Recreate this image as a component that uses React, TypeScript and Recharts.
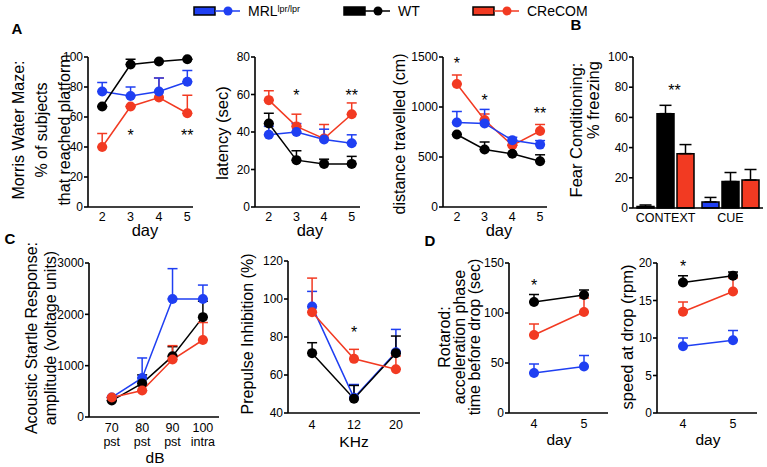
import { ComposedChart, Line, Bar, XAxis, YAxis, ErrorBar, ReferenceDot } from 'recharts'

const BLUE = '#1f3ff2'
const RED = '#f23a22'
const BLACK = '#000000'
const FONT = '"Liberation Sans", Arial, Helvetica, sans-serif'

// A: Morris water maze (days 2-5)
const mazeDays = [2, 3, 4, 5]
const reachedMrl = [77, 74, 77, 83.5]
const reachedMrlErr = [6, 6, 9, 7.5]
const reachedWt = [67, 95, 97, 98.5]
const reachedWtErr = [0, 3.5, 0, 0]
const reachedCr = [40, 67, 73, 62.5]
const reachedCrErr = [9, 0, 13, 12]

const latencyMrl = [38.5, 40, 36, 34]
const latencyMrlErr = [4.5, 4.5, 5.5, 4.5]
const latencyWt = [44.5, 25, 23, 23]
const latencyWtErr = [5.5, 5, 2.5, 4]
const latencyCr = [57, 43, 36.5, 49.5]
const latencyCrErr = [5, 6.5, 7.5, 6]

const distanceMrl = [845, 836, 667, 624]
const distanceMrlErr = [110, 140, 30, 40]
const distanceWt = [725, 575, 532, 457]
const distanceWtErr = [0, 75, 0, 65]
const distanceCr = [1230, 870, 617, 760]
const distanceCrErr = [90, 60, 0, 65]

// B: fear conditioning
const fearCats = ['CONTEXT', 'CUE']
const freezeMrl = [1, 4]
const freezeMrlErr = [1, 3]
const freezeWt = [62.5, 17.5]
const freezeWtErr = [5.5, 6]
const freezeCr = [36, 18.5]
const freezeCrErr = [6, 7]

// C: acoustic startle (dB) and prepulse inhibition (KHz)
const startleDb = [70, 80, 90, 100]
const startleTicks: Record<string, string[]> = { 70: ['70', 'pst'], 80: ['80', 'pst'], 90: ['90', 'pst'], 100: ['100', 'intra'] }
const startleMrl = [380, 760, 2300, 2300]
const startleMrlErr = [0, 390, 590, 270]
const startleWt = [320, 655, 1185, 1945]
const startleWtErr = [0, 165, 185, 310]
const startleCr = [380, 515, 1120, 1500]
const startleCrErr = [0, 0, 270, 340]

const ppiKhz = [4, 12, 20]
const ppiMrl = [96, 48, 72]
const ppiMrlErr = [8, 7, 12]
const ppiWt = [71.5, 47.5, 71.5]
const ppiWtErr = [5.5, 7, 9]
const ppiCr = [93, 68.5, 63]
const ppiCrErr = [18, 5, 7]

// D: rotarod (days 4-5)
const rotaDays = [4, 5]
const timeMrl = [40, 46.5]
const timeMrlErr = [9, 11]
const timeWt = [111, 118]
const timeWtErr = [7.5, 5]
const timeCr = [78, 101]
const timeCrErr = [11, 14]
const speedMrl = [8.9, 9.7]
const speedMrlErr = [1.1, 1.3]
const speedWt = [17.4, 18.3]
const speedWtErr = [0.9, 0.5]
const speedCr = [13.5, 16.2]
const speedCrErr = [1.3, 1.8]

const YW = 40
const MT = 8
const MR = 8
const XH = 40
const axisStyle = { stroke: '#000', strokeWidth: 1.6 }
const yTick = { fill: '#000', fontSize: 12, fontFamily: FONT }

type Series = { color: string; values: number[]; errs: number[] }
type Star = { x: number | string; y: number; text: string; dx?: number }

function starShape(text: string, dx = 0) {
  return (p: any) => (
    <text x={p.cx + dx} y={p.cy + 8.5} textAnchor="middle" fontSize={16} fontFamily={FONT} fill="#000">
      {text}
    </text>
  )
}

function makeXTick(dy: number, labels?: Record<string, string[]>) {
  return (p: any) => {
    const lines = labels ? labels[p.payload.value] : [String(p.payload.value)]
    return (
      <text x={p.x} y={p.y + dy} textAnchor="middle" fontSize={12.5} fontFamily={FONT} fill="#000">
        {lines.map((l, i) => (
          <tspan key={i} x={p.x} dy={i === 0 ? 0 : 14}>{l}</tspan>
        ))}
      </text>
    )
  }
}

interface LinePanelProps {
  left: number
  top: number
  width: number
  height: number
  xs: number[]
  xDomain: [number, number]
  yDomain: [number, number]
  yTicks: number[]
  series: Series[]
  stars?: Star[]
  tickDy: number
  tickLabels?: Record<string, string[]>
}

function LinePanel({ left, top, width, height, xs, xDomain, yDomain, yTicks, series, stars = [], tickDy, tickLabels }: LinePanelProps) {
  const rows = xs.map((x, i) => {
    const r: Record<string, any> = { x }
    series.forEach((s, j) => {
      r['v' + j] = s.values[i]
      r['e' + j] = [0, s.errs[i]]
    })
    return r
  })
  return (
    <div style={{ position: 'absolute', left: left - YW, top: top - MT }}>
      <ComposedChart width={YW + width + MR} height={MT + height + XH} data={rows}
        margin={{ top: MT, right: MR, left: 0, bottom: 0 }}>
        <XAxis type="number" dataKey="x" domain={xDomain} ticks={xs} interval={0} height={XH}
          tickLine={false} tickSize={0} axisLine={axisStyle} tick={makeXTick(tickDy, tickLabels)} />
        <YAxis type="number" domain={yDomain} ticks={yTicks} interval={0} width={YW}
          tickSize={4} tickMargin={1} tickLine={axisStyle} axisLine={axisStyle} tick={yTick} />
        {series.map((s, j) => (
          <Line key={j} dataKey={'v' + j} stroke={s.color} strokeWidth={1.5} isAnimationActive={false}
            dot={{ r: 5, fill: s.color, stroke: s.color, strokeWidth: 0 }}>
            <ErrorBar dataKey={'e' + j} direction="y" width={5} stroke={s.color} strokeWidth={1.5} />
          </Line>
        ))}
        {stars.map((st, i) => (
          <ReferenceDot key={i} x={st.x} y={st.y} r={2} fill="none" stroke="none" shape={starShape(st.text, st.dx)} />
        ))}
      </ComposedChart>
    </div>
  )
}

function FearPanel() {
  const left = 633
  const top = 57
  const width = 130
  const height = 151
  const rows = fearCats.map((c, i) => ({
    cat: c,
    mrl: freezeMrl[i], mrlErr: [0, freezeMrlErr[i]],
    wt: freezeWt[i], wtErr: [0, freezeWtErr[i]],
    cr: freezeCr[i], crErr: [0, freezeCrErr[i]],
  }))
  return (
    <div style={{ position: 'absolute', left: left - YW, top: top - MT }}>
      <ComposedChart width={YW + width + MR} height={MT + height + XH} data={rows}
        margin={{ top: MT, right: MR, left: 0, bottom: 0 }} barCategoryGap={4} barGap={3}>
        <XAxis dataKey="cat" height={XH} tickLine={false} tickSize={0} axisLine={axisStyle} tick={makeXTick(12)} />
        <YAxis type="number" domain={[0, 100]} ticks={[0, 20, 40, 60, 80, 100]} interval={0} width={YW}
          tickSize={4} tickMargin={1} tickLine={axisStyle} axisLine={axisStyle} tick={yTick} />
        <Bar dataKey="mrl" fill={BLUE} stroke="#000" strokeWidth={1.5} isAnimationActive={false}>
          <ErrorBar dataKey="mrlErr" direction="y" width={6} stroke="#000" strokeWidth={1.5} />
        </Bar>
        <Bar dataKey="wt" fill={BLACK} stroke="#000" strokeWidth={1.5} isAnimationActive={false}>
          <ErrorBar dataKey="wtErr" direction="y" width={6} stroke="#000" strokeWidth={1.5} />
        </Bar>
        <Bar dataKey="cr" fill={RED} stroke="#000" strokeWidth={1.5} isAnimationActive={false}>
          <ErrorBar dataKey="crErr" direction="y" width={6} stroke="#000" strokeWidth={1.5} />
        </Bar>
        <ReferenceDot x="CONTEXT" y={80} r={2} fill="none" stroke="none" shape={starShape('**', 9)} />
      </ComposedChart>
    </div>
  )
}

function Txt({ x, y, size = 16.5, rotate = false, bold = false, lh, children }: any) {
  return (
    <div style={{
      position: 'absolute', left: x, top: y,
      transform: `translate(-50%, -50%)${rotate ? ' rotate(-90deg)' : ''}`,
      fontSize: size, fontWeight: bold ? 'bold' : 'normal', lineHeight: lh ? lh + 'px' : 1,
      whiteSpace: 'nowrap', textAlign: 'center', fontFamily: FONT, color: '#000',
    }}>
      {children}
    </div>
  )
}

function LegendIcon({ x, color }: { x: number; color: string }) {
  return (
    <svg style={{ position: 'absolute', left: x, top: 4 }} width={48} height={14}>
      <rect x={1} y={3} width={21} height={8} fill={color} stroke="#000" strokeWidth={1.5} />
      <line x1={22} y1={7} x2={47} y2={7} stroke={color} strokeWidth={1.5} />
      <circle cx={35} cy={7} r={4.5} fill={color} />
    </svg>
  )
}

const s = (color: string, values: number[], errs: number[]): Series => ({ color, values, errs })

export default function App() {
  return (
    <div style={{ position: 'absolute', left: 0, top: 0, width: 767, height: 467, background: '#fff', fontFamily: FONT, overflow: 'hidden' }}>
      {/* legend */}
      <LegendIcon x={193} color={BLUE} />
      <div style={{ position: 'absolute', left: 248, top: 3, fontSize: 14, lineHeight: '16px' }}>
        MRL<sup style={{ fontSize: 9, verticalAlign: 'top', position: 'relative', top: -2 }}>lpr/lpr</sup>
      </div>
      <LegendIcon x={343} color={BLACK} />
      <div style={{ position: 'absolute', left: 398, top: 3, fontSize: 14, lineHeight: '16px' }}>WT</div>
      <LegendIcon x={472} color={RED} />
      <div style={{ position: 'absolute', left: 527, top: 3, fontSize: 14, lineHeight: '16px' }}>CReCOM</div>

      {/* panel letters */}
      <Txt x={17} y={28} size={15} bold>A</Txt>
      <Txt x={576} y={24} size={15} bold>B</Txt>
      <Txt x={10} y={238} size={15} bold>C</Txt>
      <Txt x={430} y={240} size={15} bold>D</Txt>

      {/* A */}
      <LinePanel left={88} top={57} width={105} height={150} xs={mazeDays} xDomain={[1.5, 5.2]}
        yDomain={[0, 100]} yTicks={[0, 20, 40, 60, 80, 100]} tickDy={12}
        series={[s(RED, reachedCr, reachedCrErr), s(BLUE, reachedMrl, reachedMrlErr), s(BLACK, reachedWt, reachedWtErr)]}
        stars={[{ x: 3, y: 50, text: '*' }, { x: 5, y: 50, text: '**' }]} />
      <Txt x={41} y={130} size={16} rotate lh={23}>Morris Water Maze:<br />% of subjects<br />that reached platform</Txt>
      <Txt x={145} y={230}>day</Txt>

      <LinePanel left={255} top={57} width={105} height={150} xs={mazeDays} xDomain={[1.5, 5.3]}
        yDomain={[0, 80]} yTicks={[0, 20, 40, 60, 80]} tickDy={12}
        series={[s(RED, latencyCr, latencyCrErr), s(BLUE, latencyMrl, latencyMrlErr), s(BLACK, latencyWt, latencyWtErr)]}
        stars={[{ x: 3, y: 61, text: '*' }, { x: 5, y: 61, text: '**' }]} />
      <Txt x={222} y={133} rotate>latency (sec)</Txt>
      <Txt x={310} y={230}>day</Txt>

      <LinePanel left={443} top={57} width={104} height={150} xs={mazeDays} xDomain={[1.5, 5.25]}
        yDomain={[0, 1500]} yTicks={[0, 500, 1000, 1500]} tickDy={12}
        series={[s(RED, distanceCr, distanceCrErr), s(BLUE, distanceMrl, distanceMrlErr), s(BLACK, distanceWt, distanceWtErr)]}
        stars={[{ x: 2, y: 1470, text: '*' }, { x: 3, y: 1100, text: '*' }, { x: 5, y: 970, text: '**' }]} />
      <Txt x={400} y={134} size={16} rotate>distance travelled (cm)</Txt>
      <Txt x={499} y={230}>day</Txt>

      {/* B */}
      <FearPanel />
      <Txt x={576} y={130} rotate>Fear Conditioning:</Txt>
      <Txt x={593} y={100} rotate>% freezing</Txt>

      {/* C */}
      <LinePanel left={89} top={263} width={130} height={154} xs={startleDb} xDomain={[62.5, 105.3]}
        yDomain={[0, 3000]} yTicks={[0, 1000, 2000, 3000]} tickDy={13} tickLabels={startleTicks}
        series={[s(BLUE, startleMrl, startleMrlErr), s(BLACK, startleWt, startleWtErr), s(RED, startleCr, startleCrErr)]} />
      <Txt x={40.5} y={338} size={16} rotate lh={19}>Acoustic Startle Response:<br />amplitude (voltage units)</Txt>
      <Txt x={155} y={458} size={15.5}>dB</Txt>

      <LinePanel left={288} top={261} width={132} height={152} xs={ppiKhz} xDomain={[-0.6, 24.6]}
        yDomain={[40, 120]} yTicks={[40, 60, 80, 100, 120]} tickDy={14}
        series={[s(BLUE, ppiMrl, ppiMrlErr), s(BLACK, ppiWt, ppiWtErr), s(RED, ppiCr, ppiCrErr)]}
        stars={[{ x: 12, y: 84, text: '*' }]} />
      <Txt x={248} y={334} size={16} rotate>Prepulse Inhibition (%)</Txt>
      <Txt x={354} y={442} size={15.5}>KHz</Txt>

      {/* D */}
      <LinePanel left={509} top={263} width={99} height={150} xs={rotaDays} xDomain={[3.5, 5.48]}
        yDomain={[0, 150]} yTicks={[0, 50, 100, 150]} tickDy={13}
        series={[s(BLUE, timeMrl, timeMrlErr), s(RED, timeCr, timeCrErr), s(BLACK, timeWt, timeWtErr)]}
        stars={[{ x: 4, y: 131, text: '*' }]} />
      <Txt x={459} y={337} size={16} rotate lh={15}>Rotarod:<br />acceleration phase<br />time before drop (sec)</Txt>
      <Txt x={559} y={440} size={15.5}>day</Txt>

      <LinePanel left={657} top={263} width={100} height={150} xs={rotaDays} xDomain={[3.48, 5.48]}
        yDomain={[0, 20]} yTicks={[0, 5, 10, 15, 20]} tickDy={13}
        series={[s(BLUE, speedMrl, speedMrlErr), s(RED, speedCr, speedCrErr), s(BLACK, speedWt, speedWtErr)]}
        stars={[{ x: 4, y: 19.9, text: '*' }]} />
      <Txt x={627} y={337} rotate>speed at drop (rpm)</Txt>
      <Txt x={708} y={440} size={15.5}>day</Txt>
    </div>
  )
}
